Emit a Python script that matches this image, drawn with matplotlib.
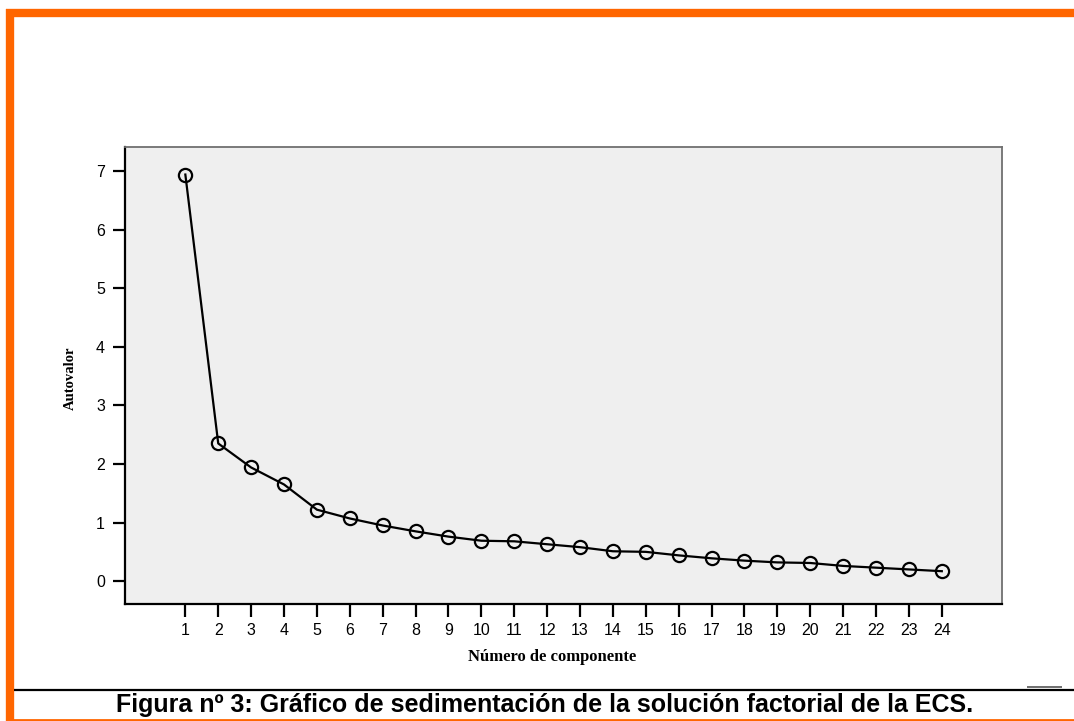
import matplotlib.pyplot as plt
from matplotlib.lines import Line2D

componentes = list(range(1, 25))
autovalores = [6.94, 2.35, 1.94, 1.65, 1.22, 1.07, 0.95, 0.85, 0.76, 0.69,
               0.68, 0.63, 0.58, 0.51, 0.50, 0.44, 0.39, 0.35, 0.32, 0.31,
               0.26, 0.23, 0.20, 0.17]
yticks = [0, 1, 2, 3, 4, 5, 6, 7]

W, H = 1074, 721
fig = plt.figure(figsize=(W / 100, H / 100), dpi=100)

# axes box in pixels
left, right, top, bottom = 124.5, 1002, 147, 604
ax = fig.add_axes([left / W, 1 - bottom / H, (right - left) / W, (bottom - top) / H])
ax.set_facecolor('#efefef')

ax.plot(componentes, autovalores, color='black', lw=1.6, marker='o',
        markersize=9.5, markerfacecolor='none', markeredgecolor='black',
        markeredgewidth=1.6)

ax.set_xlim(-0.85, 25.83)
ax.set_ylim(-0.39, 7.41)
ax.set_xticks(componentes)
ax.set_yticks(yticks)

for s in ['left', 'bottom']:
    ax.spines[s].set_color('black')
    ax.spines[s].set_linewidth(1.6)
for s in ['top', 'right']:
    ax.spines[s].set_color('#707070')
    ax.spines[s].set_linewidth(1.3)

ax.tick_params(direction='out', length=9, width=1.6, color='black',
               labelsize=11.5, pad=5)
for lab in ax.get_xticklabels() + ax.get_yticklabels():
    lab.set_fontfamily('Liberation Sans')

fig.text(70 / W, 1 - 378 / H, 'Autovalor', rotation=90, ha='center', va='center',
         fontsize=10.5, fontweight='bold', fontfamily='Liberation Serif')
fig.text(552 / W, 1 - 657 / H, 'Número de componente', ha='center', va='center',
         fontsize=12, fontweight='bold', fontfamily='Liberation Serif')

# page decorations: orange frame, rule and caption
orange = '#ff6600'
fig.add_artist(Line2D([6 / W, 1], [1 - 13 / H, 1 - 13 / H], color=orange, lw=6,
                      transform=fig.transFigure, solid_capstyle='butt'))
fig.add_artist(Line2D([10 / W, 10 / W], [0, 1 - 9 / H], color=orange, lw=6,
                      transform=fig.transFigure, solid_capstyle='butt'))
fig.add_artist(Line2D([6 / W, 1], [1 - 720 / H, 1 - 720 / H], color=orange, lw=2,
                      transform=fig.transFigure, solid_capstyle='butt'))
fig.add_artist(Line2D([14 / W, 1], [1 - 690 / H, 1 - 690 / H], color='black', lw=1.6,
                      transform=fig.transFigure, solid_capstyle='butt'))
fig.add_artist(Line2D([1027 / W, 1062 / W], [1 - 687 / H, 1 - 687 / H], color='#555555',
                      lw=1.2, transform=fig.transFigure, solid_capstyle='butt'))

fig.text(545 / W, 1 - 705 / H,
         'Figura nº 3: Gráfico de sedimentación de la solución factorial de la ECS.',
         ha='center', va='center', fontsize=18, fontweight='bold',
         fontfamily='Liberation Sans')

fig.savefig('out.png', dpi=100)
